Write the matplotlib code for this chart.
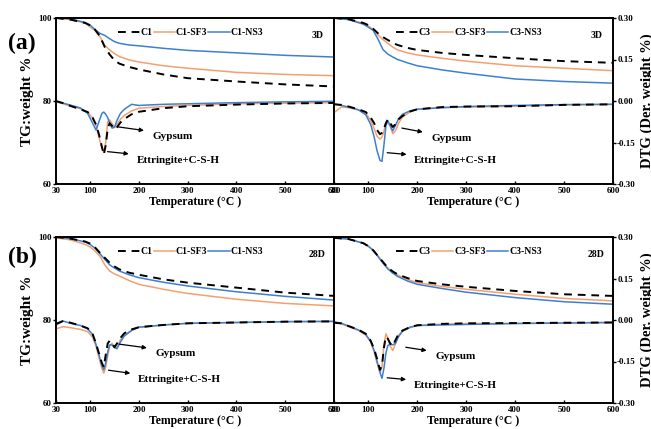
import matplotlib.pyplot as plt

plt.rcParams['font.family'] = 'Liberation Serif'
plt.rcParams['font.weight'] = 'bold'
plt.rcParams['axes.labelweight'] = 'bold'

# temperatures (°C) where the curves were read
T_tg = [30, 60, 90, 100, 110, 120, 130, 140, 150, 160, 180, 200, 250, 300, 400, 500, 600]
T_dtg = [30, 45, 60, 80, 95, 105, 112, 118, 124, 128, 132, 136, 140, 145, 150,
         155, 162, 170, 185, 200, 250, 300, 400, 500, 600]

# (a) 3D, C1 group
tg_c1_3d = [100, 99.6, 98.8, 98.2, 97.2, 95.6, 93.0, 91.2, 89.8, 89.0, 88.2, 87.6, 86.4, 85.5, 84.7, 84.0, 83.5]
tg_c1sf_3d = [100, 99.6, 98.8, 97.8, 97.0, 95.5, 93.4, 92.3, 91.4, 90.7, 89.9, 89.4, 88.5, 87.9, 86.9, 86.4, 86.1]
tg_c1ns_3d = [100, 99.8, 98.9, 98.3, 97.2, 96.3, 95.8, 95.0, 94.3, 93.9, 93.5, 93.3, 92.7, 92.2, 91.6, 91.0, 90.6]
dtg_c1_3d = [0.000, -0.008, -0.018, -0.030, -0.040, -0.060, -0.085, -0.120, -0.165, -0.194, -0.160, -0.100, -0.080,
             -0.090, -0.102, -0.095, -0.078, -0.065, -0.048, -0.039, -0.026, -0.019, -0.013, -0.009, -0.007]
dtg_c1sf_3d = [-0.003, -0.010, -0.019, -0.028, -0.040, -0.062, -0.090, -0.130, -0.170, -0.186, -0.150, -0.075, -0.068,
               -0.082, -0.096, -0.085, -0.066, -0.052, -0.036, -0.026, -0.020, -0.016, -0.010, -0.008, -0.006]
dtg_c1ns_3d = [-0.003, -0.008, -0.015, -0.025, -0.045, -0.080, -0.105, -0.075, -0.045, -0.040, -0.048, -0.060, -0.080,
               -0.098, -0.095, -0.070, -0.045, -0.030, -0.012, -0.016, -0.012, -0.010, -0.006, -0.003, -0.001]

# (a) 3D, C3 group
tg_c3_3d = [100, 99.7, 98.8, 98.3, 97.4, 96.3, 95.4, 94.7, 94.0, 93.5, 92.8, 92.3, 91.6, 91.1, 90.3, 89.6, 89.2]
tg_c3sf_3d = [100, 99.7, 98.7, 98.1, 97.2, 95.9, 94.8, 93.9, 93.0, 92.3, 91.6, 91.1, 90.3, 89.6, 88.5, 87.9, 87.3]
tg_c3ns_3d = [100, 99.6, 98.5, 97.8, 97.0, 94.9, 92.4, 91.3, 90.6, 90.0, 89.2, 88.5, 87.5, 86.7, 85.3, 84.7, 84.3]
dtg_c3_3d = [-0.012, -0.014, -0.020, -0.030, -0.040, -0.060, -0.080, -0.105, -0.120, -0.115, -0.100, -0.080, -0.066,
             -0.080, -0.094, -0.085, -0.066, -0.054, -0.038, -0.030, -0.022, -0.020, -0.019, -0.014, -0.012]
dtg_c3sf_3d = [-0.042, -0.022, -0.024, -0.032, -0.045, -0.070, -0.100, -0.128, -0.138, -0.130, -0.110, -0.078, -0.075,
               -0.092, -0.118, -0.110, -0.080, -0.058, -0.040, -0.030, -0.024, -0.022, -0.019, -0.014, -0.012]
dtg_c3ns_3d = [-0.010, -0.016, -0.022, -0.032, -0.050, -0.085, -0.130, -0.180, -0.215, -0.218, -0.160, -0.090, -0.072,
               -0.090, -0.108, -0.090, -0.064, -0.048, -0.036, -0.030, -0.024, -0.020, -0.016, -0.013, -0.012]

# (b) 28D, C1 group
tg_c1_28d = [100, 99.6, 98.9, 98.4, 97.5, 96.2, 95.0, 93.8, 92.9, 92.2, 91.4, 90.9, 89.8, 89.0, 87.8, 86.6, 85.8]
tg_c1sf_28d = [99.8, 99.3, 98.2, 97.6, 96.6, 95.4, 93.3, 91.8, 91.1, 90.6, 89.5, 88.6, 87.4, 86.4, 85.0, 84.0, 83.4]
tg_c1ns_28d = [100, 99.6, 98.8, 98.2, 97.3, 96.0, 94.6, 93.3, 92.5, 91.8, 90.9, 90.2, 89.1, 88.2, 86.8, 85.7, 84.8]
dtg_c1_28d = [-0.014, -0.003, -0.010, -0.020, -0.030, -0.050, -0.085, -0.120, -0.155, -0.170, -0.125, -0.085, -0.075,
              -0.085, -0.098, -0.085, -0.065, -0.048, -0.034, -0.026, -0.018, -0.012, -0.009, -0.006, -0.005]
dtg_c1sf_28d = [-0.032, -0.024, -0.028, -0.034, -0.042, -0.062, -0.095, -0.135, -0.175, -0.192, -0.170, -0.130, -0.095,
                -0.084, -0.100, -0.098, -0.072, -0.055, -0.036, -0.026, -0.018, -0.012, -0.009, -0.006, -0.005]
dtg_c1ns_28d = [-0.018, -0.004, -0.012, -0.020, -0.032, -0.052, -0.088, -0.125, -0.165, -0.180, -0.155, -0.115, -0.090,
                -0.090, -0.100, -0.104, -0.080, -0.058, -0.038, -0.026, -0.018, -0.012, -0.009, -0.006, -0.005]

# (b) 28D, C3 group
tg_c3_28d = [99.8, 99.5, 98.5, 97.8, 96.8, 95.4, 94.0, 92.6, 91.7, 91.0, 90.1, 89.4, 88.6, 88.0, 87.0, 86.2, 85.8]
tg_c3sf_28d = [99.8, 99.5, 98.5, 97.8, 96.8, 95.4, 93.9, 92.5, 91.5, 90.8, 89.8, 89.0, 88.1, 87.4, 86.2, 85.2, 84.6]
tg_c3ns_28d = [99.8, 99.5, 98.5, 97.8, 96.8, 95.3, 93.7, 92.3, 91.3, 90.5, 89.4, 88.6, 87.6, 86.7, 85.4, 84.4, 83.8]
dtg_c3_28d = [-0.010, -0.012, -0.022, -0.035, -0.050, -0.075, -0.105, -0.140, -0.180, -0.165, -0.100, -0.060, -0.068,
              -0.085, -0.094, -0.075, -0.050, -0.038, -0.026, -0.019, -0.014, -0.012, -0.011, -0.010, -0.009]
dtg_c3sf_28d = [-0.008, -0.014, -0.024, -0.038, -0.055, -0.080, -0.115, -0.155, -0.190, -0.170, -0.090, -0.050, -0.065,
                -0.095, -0.110, -0.090, -0.055, -0.040, -0.028, -0.020, -0.015, -0.013, -0.012, -0.010, -0.009]
dtg_c3ns_28d = [-0.006, -0.012, -0.022, -0.036, -0.052, -0.078, -0.110, -0.150, -0.190, -0.211, -0.175, -0.120, -0.092,
                -0.088, -0.090, -0.085, -0.060, -0.040, -0.026, -0.020, -0.018, -0.016, -0.013, -0.011, -0.009]

x_ticks = [30, 100, 200, 300, 400, 500, 600]
tg_ticks = [60, 80, 100]
dtg_ticks = [-0.30, -0.15, 0.00, 0.15, 0.30]

ORANGE = '#F4A06E'
BLUE = '#3D80D2'

# panel: (pixel box, names, tg, dtg, age, gypsum arrow, ettringite arrow, left side?)
panels = [
    ([56, 18, 278, 166], ['C1', 'C1-SF3', 'C1-NS3'], [tg_c1_3d, tg_c1sf_3d, tg_c1ns_3d],
     [dtg_c1_3d, dtg_c1sf_3d, dtg_c1ns_3d], '3D', ((151, -0.092), (216, -0.108)), ((130, -0.182), (185, -0.192)), True),
    ([334, 18, 279, 166], ['C3', 'C3-SF3', 'C3-NS3'], [tg_c3_3d, tg_c3sf_3d, tg_c3ns_3d],
     [dtg_c3_3d, dtg_c3sf_3d, dtg_c3ns_3d], '3D', ((163, -0.096), (217, -0.114)), ((133, -0.186), (184, -0.194)), False),
    ([56, 237, 278, 166], ['C1', 'C1-SF3', 'C1-NS3'], [tg_c1_28d, tg_c1sf_28d, tg_c1ns_28d],
     [dtg_c1_28d, dtg_c1sf_28d, dtg_c1ns_28d], '28D', ((154, -0.086), (222, -0.102)), ((132, -0.180), (188, -0.194)), True),
    ([334, 237, 279, 166], ['C3', 'C3-SF3', 'C3-NS3'], [tg_c3_28d, tg_c3sf_28d, tg_c3ns_28d],
     [dtg_c3_28d, dtg_c3sf_28d, dtg_c3ns_28d], '28D', ((171, -0.097), (225, -0.112)), ((133, -0.208), (183, -0.216)), False),
]

W, H = 651, 429
fig = plt.figure(figsize=(W / 100, H / 100), dpi=100)

for (px, py, pw, ph), names, tgs, dtgs, age, gyp, ett, left_side in panels:
    ax = fig.add_axes([px / W, 1 - (py + ph) / H, pw / W, ph / H])
    ax2 = ax.twinx()
    styles = [dict(color='black', ls=(0, (4, 3)), lw=1.4),
              dict(color=ORANGE, ls='-', lw=1.1),
              dict(color=BLUE, ls='-', lw=1.1)]
    # coloured lines first so the dashed reference sits on top
    handles = {}
    for i in [1, 2, 0]:
        h, = ax.plot(T_tg, tgs[i], zorder=3 if i == 0 else 2, **styles[i])
        ax2.plot(T_dtg, dtgs[i], zorder=3 if i == 0 else 2, **styles[i])
        handles[i] = h

    ax.set_xlim(30, 600)
    ax.set_ylim(60, 100)
    ax2.set_ylim(-0.30, 0.30)
    ax.set_xticks(x_ticks)
    ax.set_yticks(tg_ticks)
    ax2.set_yticks(dtg_ticks)
    ax.tick_params(axis='x', direction='in', length=2.5, width=1, labelsize=6.5, pad=2)
    ax.tick_params(axis='y', direction='out', length=2, width=1, labelsize=6.5, pad=1)
    ax2.tick_params(axis='y', direction='out', length=2, width=1, labelsize=6.5, pad=1)
    for s in list(ax.spines.values()) + list(ax2.spines.values()):
        s.set_linewidth(1.2)

    if left_side:
        ax2.set_yticks([])
        ax.set_ylabel('TG:weight %', fontsize=11, labelpad=3)
    else:
        ax.tick_params(axis='y', left=False, labelleft=False)
        ax2.yaxis.set_major_formatter(plt.FuncFormatter(lambda v, p: f'{v:.2f}'))
        ax2.set_ylabel('DTG (Der. weight %)', fontsize=10.5, labelpad=3)
    ax.set_xlabel('Temperature (°C )', fontsize=8.5, labelpad=1)

    ax.legend(handles=[handles[0], handles[1], handles[2]], labels=names, loc='center left',
              bbox_to_anchor=(0.21, 0.91), frameon=False, ncol=3, fontsize=7, handlelength=2.2,
              handletextpad=0.1, columnspacing=0.1, borderaxespad=0)
    ax.text(0.94, 0.895, age, transform=ax.transAxes, fontsize=7, ha='center', va='center')

    arrow = dict(arrowstyle='-|>', color='black', lw=0.9, mutation_scale=6)
    ax2.annotate('', xy=gyp[1], xytext=gyp[0], arrowprops=arrow)
    ax2.text(gyp[1][0] + 12, gyp[1][1] - 0.02, 'Gypsum', fontsize=8, ha='left', va='center')
    ax2.annotate('', xy=ett[1], xytext=ett[0], arrowprops=arrow)
    ax2.text(ett[1][0] + 10, ett[1][1] - 0.022, 'Ettringite+C-S-H', fontsize=8, ha='left', va='center')

fig.text(8 / W, 1 - 43 / H, '(a)', fontsize=17, ha='left', va='center')
fig.text(8 / W, 1 - 257 / H, '(b)', fontsize=17, ha='left', va='center')

fig.savefig('out.png', dpi=100)
